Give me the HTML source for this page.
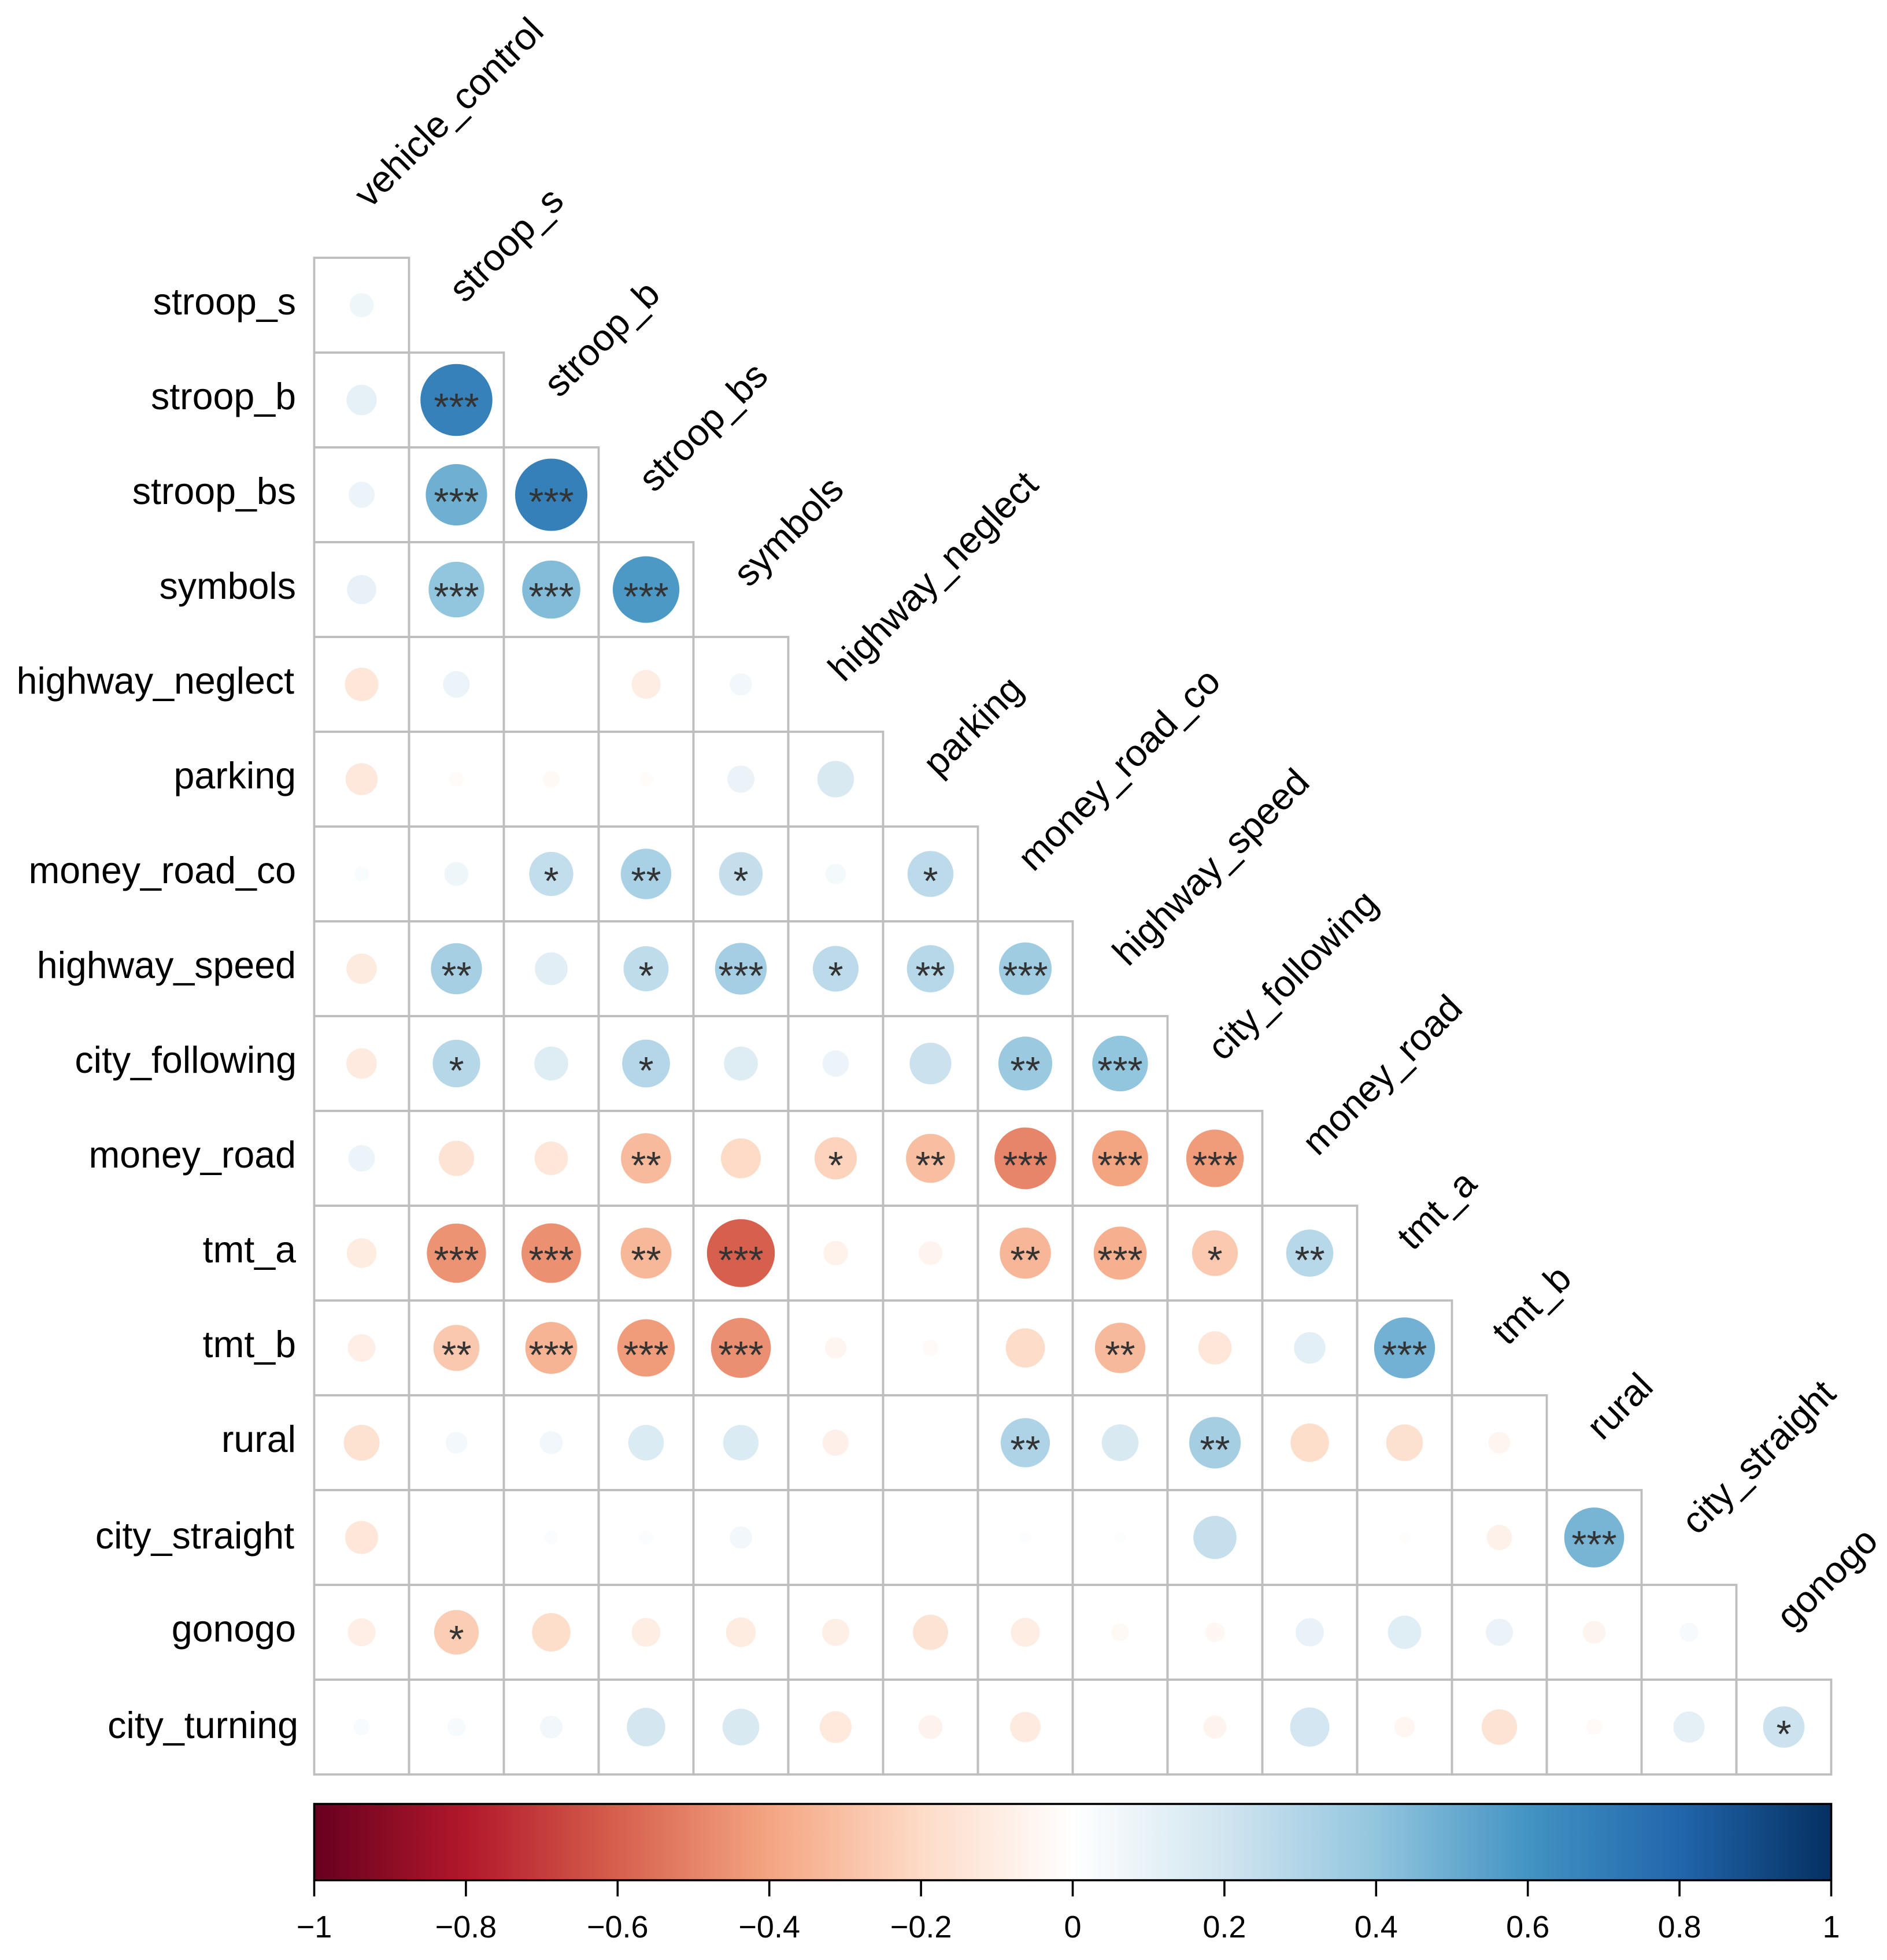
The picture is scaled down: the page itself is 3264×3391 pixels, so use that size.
<!DOCTYPE html>
<html lang="en">
<head>
<meta charset="utf-8">
<title>Correlation matrix</title>
<style>
  html, body { margin: 0; padding: 0; background: #ffffff; }
  svg { display: block; }
  text { font-family: "Liberation Sans", Arial, Helvetica, sans-serif; font-kerning: none; }
</style>
</head>
<body>
<svg id="chart" xmlns="http://www.w3.org/2000/svg" width="3264" height="3391" viewBox="0 0 3264 3391">
  <rect x="0" y="0" width="3264" height="3391" fill="#ffffff"/>
  <g id="grid"></g>
  <g id="circles"></g>
  <g id="stars"></g>
  <g id="ylabels"></g>
  <g id="xlabels"></g>
  <g id="colorbar"></g>
</svg>
<script>
const rowLabels = ["stroop_s","stroop_b","stroop_bs","symbols","highway_neglect","parking","money_road_co","highway_speed","city_following","money_road","tmt_a","tmt_b","rural","city_straight","gonogo","city_turning"];
const colLabels = ["vehicle_control","stroop_s","stroop_b","stroop_bs","symbols","highway_neglect","parking","money_road_co","highway_speed","city_following","money_road","tmt_a","tmt_b","rural","city_straight","gonogo"];

const corrStroopS = [0.069];
const corrStroopB = [0.112, 0.678];
const corrStroopBs = [0.081, 0.489, 0.684];
const corrSymbols = [0.104, 0.4, 0.437, 0.578];
const corrHighwayNeglect = [-0.139, 0.085, 0, -0.102, 0.058];
const corrParking = [-0.126, -0.024, -0.031, -0.021, 0.089, 0.167];
const corrMoneyRoadCo = [0.024, 0.069, 0.247, 0.327, 0.241, 0.048, 0.268];
const corrHighwaySpeed = [-0.113, 0.335, 0.132, 0.258, 0.344, 0.266, 0.284, 0.356];
const corrCityFollowing = [-0.114, 0.288, 0.142, 0.292, 0.142, 0.083, 0.219, 0.373, 0.4];
const corrMoneyRoad = [0.085, -0.155, -0.139, -0.323, -0.2, -0.226, -0.307, -0.494, -0.404, -0.427];
const corrTmtA = [-0.108, -0.453, -0.459, -0.331, -0.601, -0.072, -0.066, -0.336, -0.361, -0.266, 0.284];
const corrTmtB = [-0.092, -0.27, -0.346, -0.425, -0.465, -0.053, -0.029, -0.193, -0.326, -0.137, 0.122, 0.482];
const corrRural = [-0.16, 0.055, 0.063, 0.157, 0.157, -0.082, 0.002, 0.31, 0.168, 0.341, -0.185, -0.168, -0.055];
const corrCityStraight = [-0.135, 0, 0.022, 0.022, 0.059, 0.001, 0.001, 0.015, 0.011, 0.236, -0.001, -0.013, -0.077, 0.465];
const corrGonogo = [-0.094, -0.253, -0.185, -0.1, -0.108, -0.089, -0.154, -0.102, -0.034, -0.044, 0.097, 0.137, 0.089, -0.061, 0.04];
const corrCityTurning = [0.03, 0.037, 0.061, 0.185, 0.168, -0.125, -0.068, -0.114, -0.001, -0.063, 0.193, -0.049, -0.157, -0.028, 0.119, 0.216];
const corrRows = [corrStroopS, corrStroopB, corrStroopBs, corrSymbols, corrHighwayNeglect, corrParking, corrMoneyRoadCo, corrHighwaySpeed, corrCityFollowing, corrMoneyRoad, corrTmtA, corrTmtB, corrRural, corrCityStraight, corrGonogo, corrCityTurning];

const sigStroopS = [0];
const sigStroopB = [0, 3];
const sigStroopBs = [0, 3, 3];
const sigSymbols = [0, 3, 3, 3];
const sigHighwayNeglect = [0, 0, 0, 0, 0];
const sigParking = [0, 0, 0, 0, 0, 0];
const sigMoneyRoadCo = [0, 0, 1, 2, 1, 0, 1];
const sigHighwaySpeed = [0, 2, 0, 1, 3, 1, 2, 3];
const sigCityFollowing = [0, 1, 0, 1, 0, 0, 0, 2, 3];
const sigMoneyRoad = [0, 0, 0, 2, 0, 1, 2, 3, 3, 3];
const sigTmtA = [0, 3, 3, 2, 3, 0, 0, 2, 3, 1, 2];
const sigTmtB = [0, 2, 3, 3, 3, 0, 0, 0, 2, 0, 0, 3];
const sigRural = [0, 0, 0, 0, 0, 0, 0, 2, 0, 2, 0, 0, 0];
const sigCityStraight = [0, 0, 0, 0, 0, 0, 0, 0, 0, 0, 0, 0, 0, 3];
const sigGonogo = [0, 1, 0, 0, 0, 0, 0, 0, 0, 0, 0, 0, 0, 0, 0];
const sigCityTurning = [0, 0, 0, 0, 0, 0, 0, 0, 0, 0, 0, 0, 0, 0, 0, 1];
const sigRows = [sigStroopS, sigStroopB, sigStroopBs, sigSymbols, sigHighwayNeglect, sigParking, sigMoneyRoadCo, sigHighwaySpeed, sigCityFollowing, sigMoneyRoad, sigTmtA, sigTmtB, sigRural, sigCityStraight, sigGonogo, sigCityTurning];

const colorbarTicks = [-1, -0.8, -0.6, -0.4, -0.2, 0, 0.2, 0.4, 0.6, 0.8, 1];
const colorbarTickLabels = ["\u22121", "\u22120.8", "\u22120.6", "\u22120.4", "\u22120.2", "0", "0.2", "0.4", "0.6", "0.8", "1"];
const palette = ["#67001F","#B2182B","#D6604D","#F4A582","#FDDBC7","#FFFFFF","#D1E5F0","#92C5DE","#4393C3","#2166AC","#053061"];

const NS = "http://www.w3.org/2000/svg";
const gridX0 = 543.5, gridY0 = 446, cell = 164;
const barLeft = 543.5, barRight = 3167.5, barTop = 3121, barBottom = 3253;

function colX(j) { return gridX0 + j * cell; }
function rowY(i) { return gridY0 + i * cell; }
function rScale(v) { return v === 0 ? 0 : 73.8 * Math.sqrt(Math.abs(v)) + 1.5; }
function barX(v) { return barLeft + (v + 1) / 2 * (barRight - barLeft); }
function hexToRgb(h) { return [1, 3, 5].map(function (k) { return parseInt(h.substr(k, 2), 16); }); }
function colorFor(v) {
  const t = Math.max(0, Math.min(1, (v + 1) / 2)) * (palette.length - 1);
  const k = Math.min(palette.length - 2, Math.floor(t));
  const f = t - k;
  const a = hexToRgb(palette[k]), b = hexToRgb(palette[k + 1]);
  const c = a.map(function (x, n) { return Math.round(x + (b[n] - x) * f); });
  return "rgb(" + c.join(",") + ")";
}
function make(tag, attrs, parent) {
  const el = document.createElementNS(NS, tag);
  Object.keys(attrs).forEach(function (k) { el.setAttribute(k, attrs[k]); });
  parent.appendChild(el);
  return el;
}

const gridG = document.getElementById("grid");
const circlesG = document.getElementById("circles");
const starsG = document.getElementById("stars");
const ylabelsG = document.getElementById("ylabels");
const xlabelsG = document.getElementById("xlabels");
const barG = document.getElementById("colorbar");

const yLabelNudge = { "highway_neglect": [-3, 0], "city_following": [1, 0], "city_straight": [-3, 3], "city_turning": [4, 3] };

rowLabels.forEach(function (label, i) {
  const nudge = yLabelNudge[label] || [0, 0];
  const t = make("text", { x: 512 + nudge[0], y: rowY(i) + cell / 2 + 16 + nudge[1], "text-anchor": "end", "font-size": 64.5, fill: "#000" }, ylabelsG);
  
  
  t.textContent = label;
});

colLabels.forEach(function (label, j) {
  const ox = colX(j) + cell / 2 + 14;
  const oy = rowY(j) - 84;
  const t = make("text", { x: ox, y: oy, "font-size": 64.5, fill: "#000", transform: "rotate(-45 " + ox + " " + oy + ")" }, xlabelsG);
  
  
  t.textContent = label;
});

corrRows.forEach(function (vals, i) {
  vals.forEach(function (v, j) {
    const rect = make("rect", { x: colX(j), y: rowY(i), width: cell, height: cell, fill: "none", stroke: "#bebebe", "stroke-width": 3.8 }, gridG);
    
    

    const cx = colX(j) + cell / 2, cy = rowY(i) + cell / 2;
    const c = make("circle", { cx: cx, cy: cy, r: rScale(v), fill: colorFor(v) }, circlesG);
    
    

    const n = sigRows[i][j];
    if (n > 0) {
      const s = make("text", { x: cx, y: cy + 35, "text-anchor": "middle", "font-size": 67, fill: "#333333" }, starsG);
      
      
      s.textContent = "*".repeat(n);
    }
  });
});

const defs = make("defs", {}, barG);
const grad = make("linearGradient", { id: "rdbu", x1: 0, y1: 0, x2: 1, y2: 0 }, defs);
palette.forEach(function (col, k) {
  make("stop", { offset: k / (palette.length - 1), "stop-color": col }, grad);
});
const barRect = make("rect", { x: barLeft, y: barTop, width: barRight - barLeft, height: barBottom - barTop, fill: "url(#rdbu)", stroke: "#000", "stroke-width": 3.6 }, barG);



colorbarTicks.forEach(function (v, k) {
  const x = barX(v);
  const tick = make("line", { x1: x, x2: x, y1: barBottom, y2: barBottom + 28, stroke: "#000", "stroke-width": 3.6 }, barG);
  
  
  const t = make("text", { x: x, y: 3352, "text-anchor": "middle", "font-size": 54, fill: "#000" }, barG);
  
  
  t.textContent = colorbarTickLabels[k];
});
</script>
</body>
</html>
